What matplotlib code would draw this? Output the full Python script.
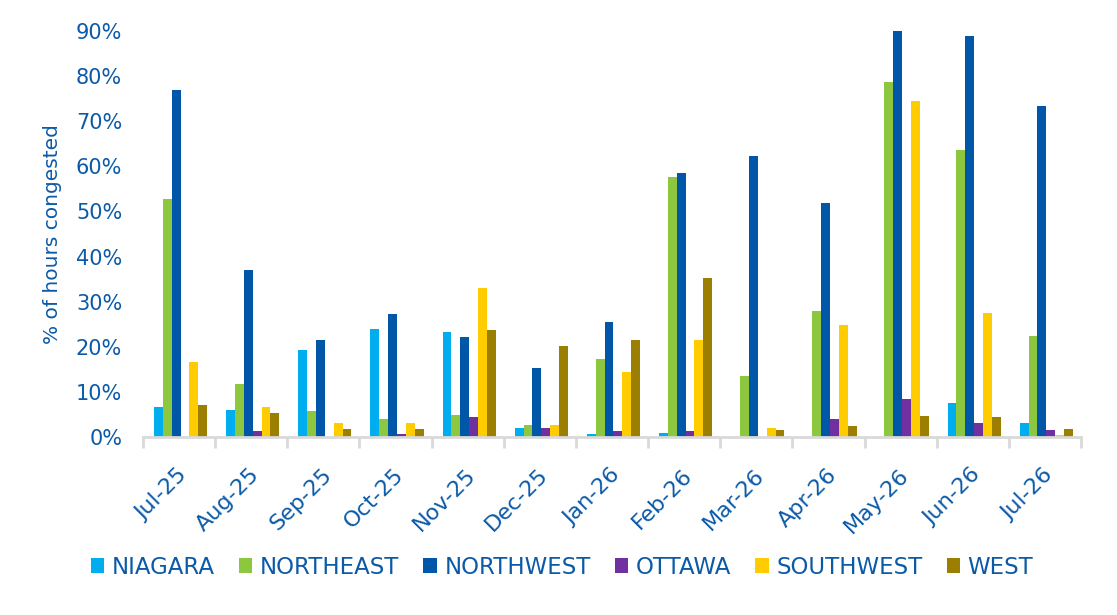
import matplotlib
matplotlib.use("Agg")
import matplotlib.pyplot as plt
import matplotlib.transforms as mtransforms
import numpy as np

months = ["Jul-25", "Aug-25", "Sep-25", "Oct-25", "Nov-25", "Dec-25", "Jan-26",
          "Feb-26", "Mar-26", "Apr-26", "May-26", "Jun-26", "Jul-26"]

niagara   = [6.6, 5.9, 19.2, 23.9, 23.2, 2.1, 0.6, 0.8, 0.0, 0.0, 0.0, 7.5, 3.0]
northeast = [52.7, 11.7, 5.7, 4.1, 4.8, 2.6, 17.2, 57.6, 13.5, 27.9, 78.6, 63.6, 22.3]
northwest = [76.9, 37.0, 21.4, 27.2, 22.1, 15.2, 25.4, 58.5, 62.4, 51.8, 89.9, 89.0, 73.3]
ottawa    = [0.0, 1.3, 0.0, 0.6, 4.4, 2.1, 1.3, 1.3, 0.0, 3.9, 8.4, 3.0, 1.5]
southwest = [16.6, 6.6, 3.0, 3.0, 33.0, 2.6, 14.3, 21.4, 1.9, 24.8, 74.4, 27.4, 0.4]
west      = [7.2, 5.3, 1.7, 1.7, 23.7, 20.1, 21.4, 35.2, 1.5, 2.4, 4.6, 4.4, 1.7]

series_names = ["NIAGARA", "NORTHEAST", "NORTHWEST", "OTTAWA", "SOUTHWEST", "WEST"]
series_values = [niagara, northeast, northwest, ottawa, southwest, west]
colors = ["#00AEEF", "#8DC63F", "#0057A8", "#7030A0", "#FFCC00", "#9C7E00"]

text_color = "#0B5AA8"
axis_grey = "#D9D9D9"

fig = plt.figure(figsize=(11.17, 6.15), dpi=100)
ax = fig.add_axes([143 / 1117, 1 - 437 / 615, (1081 - 143) / 1117, (437 - 31) / 615])

x = np.arange(len(months))
bw = 0.123
n = len(series_names)
handles = []
for i, (name, vals, c) in enumerate(zip(series_names, series_values, colors)):
    offs = (i - (n - 1) / 2) * bw + 0.02
    b = ax.bar(x + offs, vals, width=bw, color=c, label=name, linewidth=0)
    handles.append(b)

ax.set_xlim(-0.5, len(months) - 0.5)
ax.set_ylim(0, 90)
ax.set_yticks(np.arange(0, 91, 10))
ax.set_yticklabels([f"{v}%" for v in range(0, 91, 10)])

for s in ["top", "right", "left"]:
    ax.spines[s].set_visible(False)
ax.spines["bottom"].set_color(axis_grey)
ax.spines["bottom"].set_linewidth(2)

ax.tick_params(axis="y", length=0, pad=15, labelsize=15, labelcolor=text_color)
ax.set_xticks(x)
ax.set_xticks(np.arange(-0.5, len(months), 1), minor=True)
ax.tick_params(axis="x", which="major", length=0, pad=20)
ax.tick_params(axis="x", which="minor", length=8, width=2, color=axis_grey)
ax.set_xticklabels(months, rotation=45, ha="right", va="top",
                   rotation_mode="anchor", fontsize=16, color=text_color)
offset = mtransforms.ScaledTranslation(-2 / 100, 0, fig.dpi_scale_trans)
for lbl in ax.get_xticklabels():
    lbl.set_transform(lbl.get_transform() + offset)

fig.text(53 / 1117, 1 - 234 / 615, "% of hours congested", rotation=90,
         ha="center", va="center", fontsize=14.5, color=text_color)

leg = fig.legend(handles=handles, labels=series_names, loc="center",
                 bbox_to_anchor=(562 / 1117, 1 - 567 / 615), ncol=6,
                 frameon=False, fontsize=16.5, handlelength=0.6, handleheight=0.6,
                 handletextpad=0.32, columnspacing=1.05, borderaxespad=0)
for t in leg.get_texts():
    t.set_color(text_color)

fig.savefig("out.png", dpi=100, facecolor="white")
